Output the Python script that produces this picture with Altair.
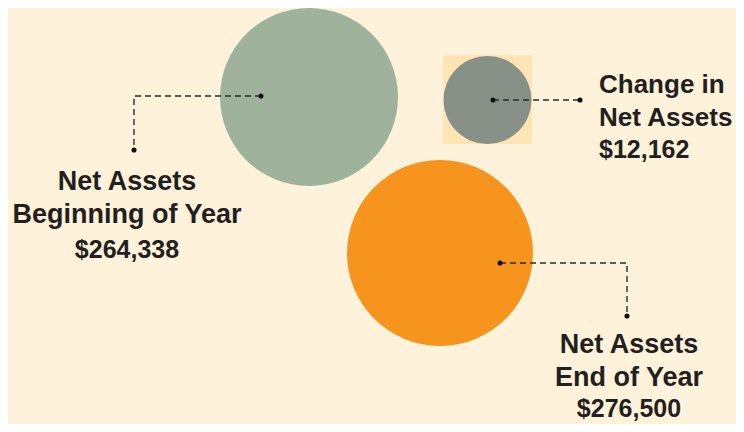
import altair as alt
import pandas as pd

# ---- data ----
title_line1 = ["Net Assets", "Change in", "Net Assets"]
title_line2 = ["Beginning of Year", "Net Assets", "End of Year"]
amounts = [264338, 12162, 276500]
item_ids = ["begin", "change", "end"]

# ---- layout (pixel space of the page) ----
circle_cx = [309, 487.5, 440]
circle_cy = [97, 100, 253]
circle_r = [89, 44, 93]
circle_colors = ["#9FB39C", "#879188", "#F7941E"]

label_x = [127, 599, 629]
label_align = ["center", "left", "center"]
label_size = [27, 26, 27]
label_base = [190, 93, 353]
value_base = [258, 158, 417]

# connector polylines
conn_ids = ["begin", "begin", "begin", "change", "change", "end", "end", "end"]
conn_x = [261, 134, 134, 493, 580, 500, 627, 627]
conn_y = [96, 96, 150, 100, 100, 263, 263, 316]
dot_x = [261, 134, 493, 580, 500, 627]
dot_y = [96, 150, 100, 100, 263, 316]

BG = "#FEF2DA"
INK = "#231F20"
FONT = "Liberation Sans"

W, H = 728, 416
xs = alt.Scale(domain=[8, 8 + W], range=[0, W], nice=False, zero=False)
ys = alt.Scale(domain=[8, 8 + H], range=[0, H], nice=False, zero=False)

def X(f):
    return alt.X(f, type="quantitative", scale=xs, axis=None)

def Y(f):
    return alt.Y(f, type="quantitative", scale=ys, axis=None)

circles = pd.DataFrame({
    "id": item_ids, "cx": circle_cx, "cy": circle_cy,
    "area": [(2 * r) ** 2 for r in circle_r], "color": circle_colors,
})
square_df = pd.DataFrame({"cx": [487.5], "cy": [99.5]})

labels = pd.DataFrame({
    "id": item_ids,
    "t": [a + "\n" + b for a, b in zip(title_line1, title_line2)],
    "amount": amounts, "x": label_x, "ly": label_base, "vy": value_base,
})
conn = pd.DataFrame({"id": conn_ids, "o": list(range(len(conn_ids))), "x": conn_x, "y": conn_y})
dots = pd.DataFrame({"x": dot_x, "y": dot_y})

square = alt.Chart(square_df).mark_square(color="#FFE5B4", opacity=1, size=89 * 89).encode(
    x=X("cx"), y=Y("cy"))

circ = alt.Chart(circles).mark_circle(opacity=1).encode(
    x=X("cx"), y=Y("cy"),
    size=alt.Size("area:Q", scale=None, legend=None),
    color=alt.Color("color:N", scale=None, legend=None),
)

lines = alt.Chart(conn).mark_line(strokeDash=[6, 4], strokeWidth=1.4, color="#2b2b2b").encode(
    x=X("x"), y=Y("y"), detail="id:N", order="o:Q")

dot_layer = alt.Chart(dots).mark_circle(size=26, opacity=1, color="#111111").encode(
    x=X("x"), y=Y("y"))

layers = [square, circ, lines, dot_layer]
for i in range(3):
    sub = labels.iloc[[i]]
    t = alt.Chart(sub).mark_text(
        font=FONT, fontSize=label_size[i], fontWeight="bold", color=INK,
        align=label_align[i], baseline="alphabetic", lineBreak="\n", lineHeight=33,
    ).encode(x=X("x"), y=Y("ly"), text="t:N")
    v = alt.Chart(sub).mark_text(
        font=FONT, fontSize=25, fontWeight="bold", color=INK,
        align=label_align[i], baseline="alphabetic",
    ).encode(x=X("x"), y=Y("vy"), text=alt.Text("amount:Q", format="$,.0f"))
    layers += [t, v]

chart = alt.layer(*layers).properties(
    width=W, height=H, background=BG, padding=0,
    autosize=alt.AutoSizeParams(type="none"),
).configure_view(stroke=None, fill=BG)

chart.save("out.html", embed_options={"renderer": "svg", "actions": False})
